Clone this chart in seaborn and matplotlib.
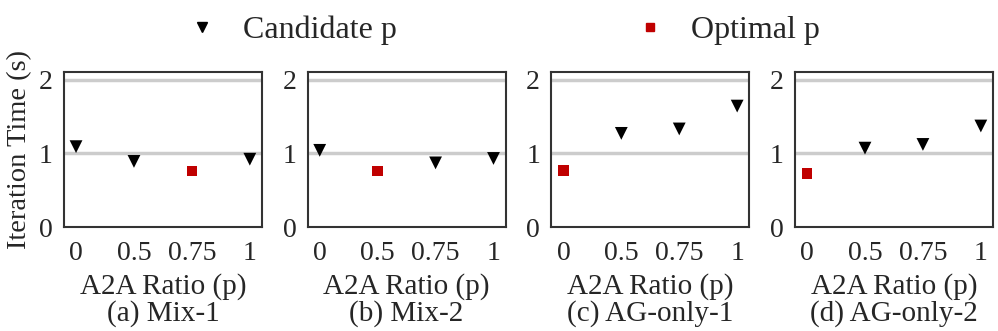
import pandas as pd
import matplotlib.pyplot as plt
import seaborn as sns
from matplotlib.lines import Line2D

ratios = ["0", "0.5", "0.75", "1"]
panel_titles = ["(a) Mix-1", "(b) Mix-2", "(c) AG-only-1", "(d) AG-only-2"]
iter_time = [
    [1.09, 0.89, 0.76, 0.92],
    [1.04, 0.76, 0.87, 0.93],
    [0.77, 1.27, 1.33, 1.64],
    [0.73, 1.07, 1.12, 1.37],
]
optimal_idx = [2, 1, 0, 0]

sns.set_style("white")
plt.rcParams['font.family'] = ['Liberation Serif', 'DejaVu Serif']
plt.rcParams['font.size'] = 20

fig, axes = plt.subplots(1, 4, figsize=(9.98, 3.31), dpi=100)

for k, ax in enumerate(axes):
    df = pd.DataFrame({"ratio": ratios, "time": iter_time[k]})
    df["kind"] = "Candidate p"
    df.loc[optimal_idx[k], "kind"] = "Optimal p"
    ax.axhline(1, color="#cccccc", lw=2.5, zorder=0)
    ax.axhline(2, color="#cccccc", lw=2.5, zorder=0)
    sns.scatterplot(data=df, x="ratio", y="time", hue="kind", style="kind",
                    markers={"Candidate p": "v", "Optimal p": "s"},
                    palette={"Candidate p": "black", "Optimal p": "#c00000"},
                    size="kind", sizes={"Candidate p": 85, "Optimal p": 60},
                    linewidth=0, ax=ax, legend=False, zorder=3)
    ax.set_xlim(-0.21, 3.21)
    ax.set_ylim(0, 2.1)
    ax.set_yticks([0, 1, 2])
    ax.tick_params(axis="x", length=0, pad=10)
    ax.tick_params(axis="y", length=0, pad=8)
    ax.set_xlabel("A2A Ratio (p)\n" + panel_titles[k], fontsize=21,
                  linespacing=1.0, labelpad=5)
    ax.set_ylabel("")
    for sp in ax.spines.values():
        sp.set_color("#333333")
        sp.set_linewidth(1.5)

axes[0].set_ylabel("Iteration Time (s)", fontsize=20.5, labelpad=5)

handles = [
    Line2D([], [], marker="v", color="black", ls="", markersize=7),
    Line2D([], [], marker="s", color="#c00000", ls="", markersize=6),
]
fig.legend(handles, ["Candidate p", "Optimal p"], loc="upper center", ncol=2,
           frameon=False, bbox_to_anchor=(0.496, 1.04), columnspacing=6.9,
           handlelength=2, handletextpad=0.3, fontsize=23)

fig.subplots_adjust(left=0.064, right=0.995, top=0.782, bottom=0.314, wspace=0.23)
fig.savefig("out.png", dpi=100)
